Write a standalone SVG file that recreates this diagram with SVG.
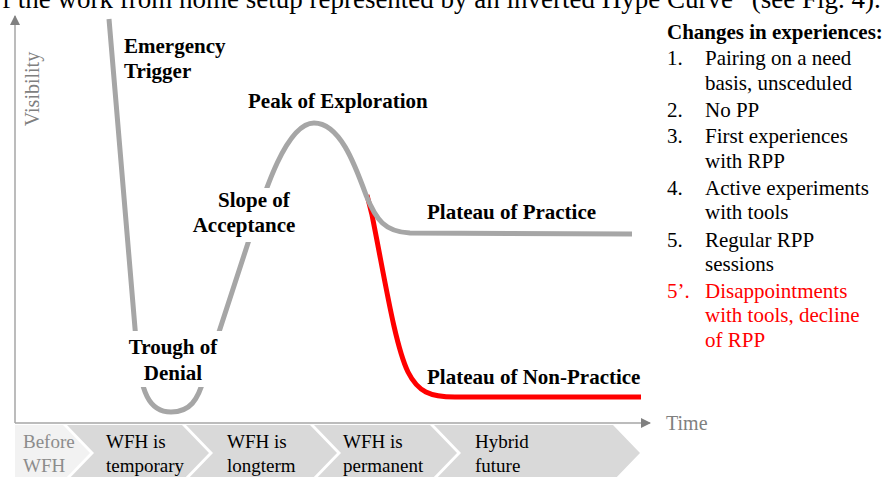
<svg xmlns="http://www.w3.org/2000/svg" width="889" height="477" viewBox="0 0 889 477">
<style>
text{font-family:"Liberation Serif","Times New Roman",serif;}
.lbl{font-family:"Liberation Serif","Times New Roman",serif;font-size:21px;font-weight:bold;fill:#000;}
.li{font-family:"Liberation Serif","Times New Roman",serif;font-size:21px;fill:#000;}
.red{fill:#ff0000;}
.ph{font-family:"Liberation Serif","Times New Roman",serif;font-size:19px;fill:#000;}
.axis{stroke:#a6a6a6;stroke-width:1.5;fill:none;}
.gc{stroke:#a6a6a6;stroke-width:5;fill:none;}
.rc{stroke:#ff0000;stroke-width:5;fill:none;}
.chev{fill:#d9d9d9;}
</style>
<defs>
<marker id="ah" markerWidth="10" markerHeight="10" refX="9" refY="5" orient="auto" markerUnits="userSpaceOnUse">
<path d="M0,0 L10,5 L0,10 Z" fill="#808080"/>
</marker>
</defs>
<rect width="889" height="477" fill="#fff"/>
<text x="2" y="8" style="font-size:27px" fill="#000">f the work from home setup represented by an inverted Hype Curve” (see Fig. 4).</text>

<g id="phases">
<polygon points="15,425 63,425 90,453 63,481 15,481" fill="#f2f2f2"/>
<polygon class="chev" points="67,425 182,425 209,453 182,481 67,481 94,453"/>
<polygon class="chev" points="186,425 310,425 337,453 310,481 186,481 213,453"/>
<polygon class="chev" points="314,425 430,425 457,453 430,481 314,481 341,453"/>
<polygon class="chev" points="434,425 613,425 640,453 613,481 434,481 461,453"/>
<text class="ph" x="23" y="448" style="fill:#8c8c8c">Before</text>
<text class="ph" x="23" y="472" style="fill:#8c8c8c">WFH</text>
<text class="ph" x="106" y="448">WFH is</text>
<text class="ph" x="106" y="472">temporary</text>
<text class="ph" x="227" y="448">WFH is</text>
<text class="ph" x="227" y="472">longterm</text>
<text class="ph" x="343" y="448">WFH is</text>
<text class="ph" x="343" y="472">permanent</text>
<text class="ph" x="475" y="448">Hybrid</text>
<text class="ph" x="475" y="472">future</text>
</g>

<g id="connectors">
<path class="axis" d="M15,423 L15,16" marker-end="url(#ah)"/>
<path class="axis" d="M15,423 L650,423" marker-end="url(#ah)"/>
<path class="rc" d="M367,195 L372,215 C385,280 395,345 408,372 C418,392 430,397 455,397 L641,397"/>
<path class="gc" d="M109,19 L136,340 C140,395 150,412 171,412 C190,412 198,400 204,378 L248,243 C262,200 285,123 314,123 C340,123 355,165 366,195 C376,220 385,232 410,233 L632,234"/>
</g>

<g id="axis-labels">
<text x="39" y="89" transform="rotate(-90 39 89)" text-anchor="middle" style="font-size:20px" fill="#808080">Visibility</text>
<text x="666" y="430" style="font-size:20px" fill="#808080">Time</text>
</g>

<g id="emergency-trigger">
<text class="lbl" x="124" y="53">Emergency</text>
<text class="lbl" x="124" y="78">Trigger</text>
</g>
<g id="peak-of-exploration">
<text class="lbl" x="248" y="108">Peak of Exploration</text>
</g>
<g id="slope-of-acceptance">
<rect x="190" y="188" width="108" height="54" fill="#fff"/>
<text class="lbl" x="254" y="207" text-anchor="middle">Slope of</text>
<text class="lbl" x="244" y="232" text-anchor="middle">Acceptance</text>
</g>
<g id="trough-of-denial">
<rect x="124" y="331" width="98" height="56" fill="#fff"/>
<text class="lbl" x="173" y="354" text-anchor="middle">Trough of</text>
<text class="lbl" x="173" y="380" text-anchor="middle">Denial</text>
</g>
<g id="plateau-of-practice">
<text class="lbl" x="427" y="219">Plateau of Practice</text>
</g>
<g id="plateau-of-non-practice">
<text class="lbl" x="427" y="384">Plateau of Non-Practice</text>
</g>

<g id="changes">
<text class="lbl" x="667" y="39">Changes in experiences:</text>
<text class="li" x="667" y="65">1.</text>
<text class="li" x="705" y="65">Pairing on a need</text>
<text class="li" x="705" y="90">basis, unsceduled</text>
<text class="li" x="667" y="117">2.</text>
<text class="li" x="705" y="117">No PP</text>
<text class="li" x="667" y="143">3.</text>
<text class="li" x="705" y="143">First experiences</text>
<text class="li" x="705" y="168">with RPP</text>
<text class="li" x="667" y="195">4.</text>
<text class="li" x="705" y="195">Active experiments</text>
<text class="li" x="705" y="219">with tools</text>
<text class="li" x="667" y="247">5.</text>
<text class="li" x="705" y="247">Regular RPP</text>
<text class="li" x="705" y="271">sessions</text>
<text class="li red" x="667" y="298">5’.</text>
<text class="li red" x="705" y="298">Disappointments</text>
<text class="li red" x="705" y="322">with tools, decline</text>
<text class="li red" x="705" y="347">of RPP</text>
</g>
</svg>
